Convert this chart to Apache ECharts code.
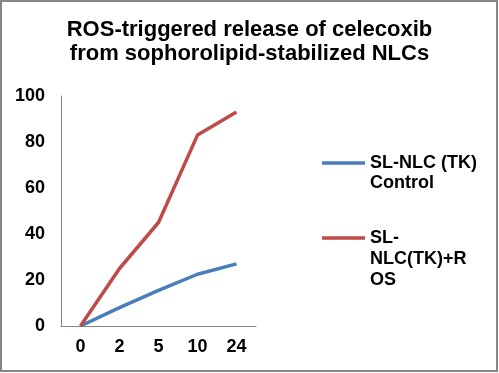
<!DOCTYPE html>
<html><head><meta charset="utf-8">
<script src="https://cdn.jsdelivr.net/npm/echarts@6/dist/echarts.min.js"></script>
<style>html,body{margin:0;padding:0;background:#fff}#c{width:499px;height:373px}</style>
</head><body><div id="c"></div>
<script>
const categories = ['0', '2', '5', '10', '24'];
const controlName = 'SL-NLC (TK) Control';
const rosName = 'SL-NLC(TK)+ROS';
const controlValues = [0, 8, 15.5, 22.5, 27];
const rosValues = [0, 25, 45, 83, 93];
const yTicks = { min: 0, max: 100, interval: 20 };

const font = 'Liberation Sans, Arial, sans-serif';
const chart = echarts.init(document.getElementById('c'), null, { renderer: 'canvas' });
chart.setOption({
  backgroundColor: '#fff',
  animation: false,
  title: {
    text: 'ROS-triggered release of celecoxib\nfrom sophorolipid-stabilized NLCs',
    left: 'center', top: 18, padding: 0,
    textStyle: { fontFamily: font, fontSize: 22, fontWeight: 'bold', color: '#000', lineHeight: 24 }
  },
  grid: { left: 61, top: 96, bottom: 47, right: 243, containLabel: false },
  xAxis: {
    type: 'category', data: categories, boundaryGap: true,
    axisLine: { lineStyle: { color: '#868686', width: 1 } },
    axisTick: { show: false },
    axisLabel: { fontFamily: font, fontSize: 18, fontWeight: 'bold', color: '#000', margin: 12 }
  },
  yAxis: {
    type: 'value', min: yTicks.min, max: yTicks.max, interval: yTicks.interval,
    axisLine: { show: true, lineStyle: { color: '#868686', width: 1 } },
    axisTick: { show: false },
    splitLine: { show: false },
    axisLabel: { fontFamily: font, fontSize: 18, fontWeight: 'bold', color: '#000', margin: 16 }
  },
  legend: [
    {
      data: [controlName], orient: 'vertical', left: 322, top: 153, padding: 0,
      itemWidth: 43, itemHeight: 40, itemGap: 0,
      icon: 'path://M0,0 L0.01,0 L0,0.01 Z M0,8.25 L43,8.25 L43,11.75 L0,11.75 Z M43,40 L42.99,40 L43,39.99 Z',
      formatter: () => 'SL-NLC (TK)\nControl',
      textStyle: { fontFamily: font, fontSize: 18, fontWeight: 'bold', color: '#000', lineHeight: 20 }
    },
    {
      data: [rosName], orient: 'vertical', left: 322, top: 227.5, padding: 0,
      itemWidth: 43, itemHeight: 63, itemGap: 0,
      icon: 'path://M0,0 L0.01,0 L0,0.01 Z M0,8.75 L43,8.75 L43,12.25 L0,12.25 Z M43,63 L42.99,63 L43,62.99 Z',
      formatter: () => 'SL-\nNLC(TK)+R\nOS',
      textStyle: { fontFamily: font, fontSize: 18, fontWeight: 'bold', color: '#000', lineHeight: 21 }
    }
  ],
  series: [
    {
      name: controlName, type: 'line', data: controlValues, showSymbol: false, symbol: 'none',
      lineStyle: { color: '#4A7EBB', width: 3.5 }, itemStyle: { color: '#4A7EBB' }
    },
    {
      name: rosName, type: 'line', data: rosValues, showSymbol: false, symbol: 'none',
      lineStyle: { color: '#BE4B48', width: 3.5 }, itemStyle: { color: '#BE4B48' }
    }
  ],
  graphic: [{
    type: 'rect', shape: { x: 1, y: 1, width: 496, height: 370 },
    style: { fill: 'none', stroke: '#868686', lineWidth: 2 }, silent: true
  }]
});
</script></body></html>
